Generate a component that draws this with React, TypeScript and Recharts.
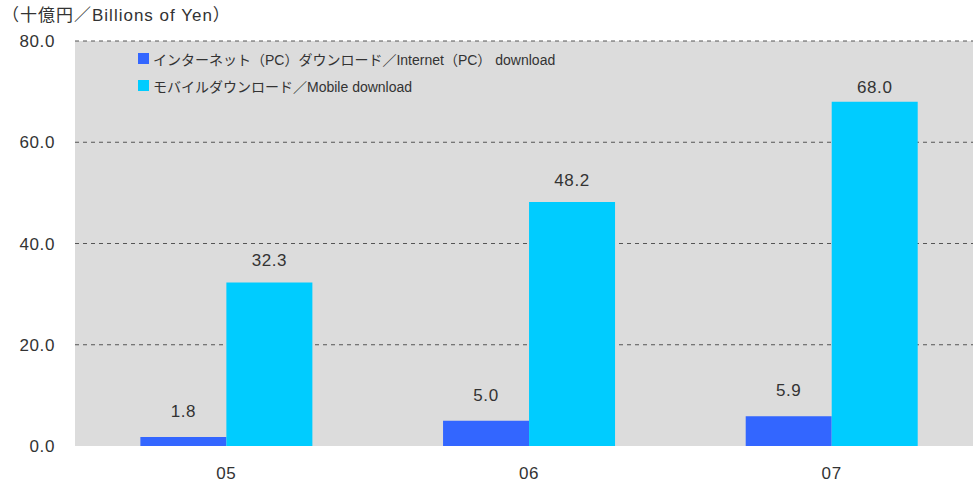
import React from "react";
import { BarChart, Bar, XAxis, YAxis, CartesianGrid, LabelList } from "recharts";

const YEARS = ["05", "06", "07"];
const PC_DOWNLOAD = [1.8, 5.0, 5.9];
const MOBILE_DOWNLOAD = [32.3, 48.2, 68.0];
const Y_TICKS = [0, 20, 40, 60, 80];

const PC_LABEL = "インターネット（PC）ダウンロード／Internet（PC） download";
const MOBILE_LABEL = "モバイルダウンロード／Mobile download";

const data = YEARS.map((year, i) => ({
  year,
  pc: PC_DOWNLOAD[i],
  mobile: MOBILE_DOWNLOAD[i],
}));

const FONT = "'Liberation Sans', Arial, 'Noto Sans CJK JP', sans-serif";
const TEXT = "#333333";
const tickStyle = { fontSize: 17, fill: TEXT, fontFamily: FONT, letterSpacing: 0.6 };

// value label above a bar, kept below the legend's bottom edge
function makeLabel(offset: number) {
  return (props: any) => {
    const { x, y, width, value } = props;
    const baseline = Math.max(y - offset, 93);
    return (
      <text
        x={x + width / 2}
        y={baseline}
        textAnchor="middle"
        fontSize={17}
        fill={TEXT}
        fontFamily={FONT}
        letterSpacing={0.6}
      >
        {Number(value).toFixed(1)}
      </text>
    );
  };
}

function LegendBox() {
  const items = [
    { label: PC_LABEL, color: "#3366ff" },
    { label: MOBILE_LABEL, color: "#00ccff" },
  ];
  return (
    <div
      style={{
        position: "absolute",
        left: 138,
        top: 45,
        fontFamily: FONT,
        fontSize: 14,
        color: TEXT,
      }}
    >
      {items.map((it) => (
        <div key={it.label} style={{ display: "flex", alignItems: "center", height: 27 }}>
          <span style={{ width: 11, height: 11, background: it.color, marginRight: 4 }} />
          <span>{it.label}</span>
        </div>
      ))}
    </div>
  );
}

export default function App() {
  return (
    <div
      style={{
        position: "absolute",
        left: 0,
        top: 0,
        width: 973,
        height: 483,
        overflow: "hidden",
        background: "#fff",
        fontFamily: FONT,
      }}
    >
      <BarChart
        width={983}
        height={483}
        data={data}
        margin={{ top: 41, right: 0, bottom: 7, left: 0 }}
        barCategoryGap="21.6%"
        barGap={0}
      >
        <CartesianGrid
          vertical={false}
          fill="#dcdcdc"
          stroke="#555"
          strokeDasharray="4 4"
          horizontalValues={[20, 40, 60, 80]}
        />
        <XAxis
          dataKey="year"
          height={30}
          axisLine={false}
          tickLine={false}
          tickSize={0}
          tickMargin={21}
          tick={tickStyle}
        />
        <YAxis
          width={75}
          domain={[0, 80]}
          ticks={Y_TICKS}
          axisLine={false}
          tickLine={false}
          tickSize={0}
          tickMargin={20}
          tickFormatter={(v: number) => v.toFixed(1)}
          tick={tickStyle}
        />
        <Bar dataKey="pc" fill="#3366ff" isAnimationActive={false}>
          <LabelList dataKey="pc" content={makeLabel(20)} />
        </Bar>
        <Bar dataKey="mobile" fill="#00ccff" isAnimationActive={false}>
          <LabelList dataKey="mobile" content={makeLabel(16)} />
        </Bar>
      </BarChart>
      <div
        style={{
          position: "absolute",
          left: 2,
          top: 6,
          fontSize: 17,
          letterSpacing: 1,
          color: TEXT,
          lineHeight: "20px",
        }}
      >
        （十億円／Billions of Yen）
      </div>
      <LegendBox />
    </div>
  );
}
